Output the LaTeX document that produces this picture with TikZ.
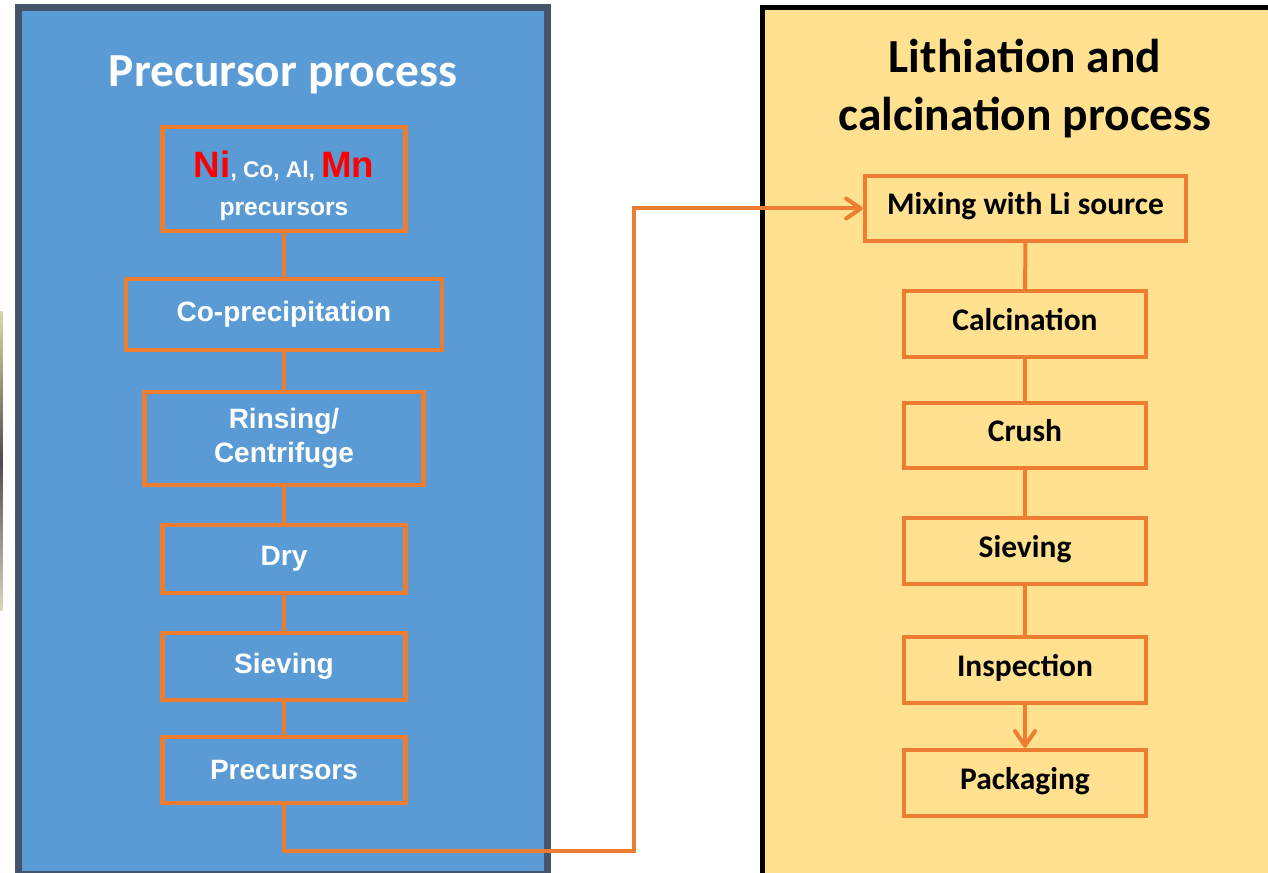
\documentclass[tikz,border=0pt]{standalone}
\usepackage{fontspec}
\setmainfont{Liberation Sans}
\newfontfamily\calibri{Carlito}
\usetikzlibrary{arrows.meta}
\definecolor{panelblue}{HTML}{5B9BD5}
\definecolor{panelslate}{HTML}{44546A}
\definecolor{panelyellow}{HTML}{FFE18F}
\definecolor{flow}{HTML}{ED7D31}
\definecolor{elem}{HTML}{FF0000}
\tikzset{
  stepbox/.style={draw=flow, line width=3.3pt, inner sep=0pt, align=center},
  lbox/.style={stepbox, text=white, font=\fontsize{21}{25.5}\selectfont\bfseries},
  rbox/.style={stepbox, text=black, font=\calibri\fontsize{23.6}{28}\selectfont\bfseries,
    text height=16pt, text depth=6.6pt},
  conn/.style={draw=flow, line width=3pt},
  tip/.style={-{Straight Barb[length=11pt,width=15pt,line cap=round,line join=round]}},
  title/.style={align=center, font=\calibri\fontsize{35.6}{43.5}\selectfont\bfseries, inner sep=0pt},
  srcline/.style={text=white, font=\bfseries, inner sep=0pt, anchor=base}
}
\begin{document}
\begin{tikzpicture}[x=0.75pt,y=-0.75pt]
\useasboundingbox (0,0) rectangle (1268,873);
\clip (0,0) rectangle (1268,873);

% panels
\fill[top color=black!20!olive!25, bottom color=black!55!olive!20, middle color=black!70] (0,312) rectangle (2.5,610);
\draw[panelslate, fill=panelblue, line width=5.25pt] (18.5,7.5) rectangle (547.5,874.5);
\draw[black, fill=panelyellow, line width=3.9pt] (762.5,7.5) rectangle (1290,900);

% titles
\node[title, text=white] (ttlA) at (283,75) {Precursor process};
\node[title, text=black] (ttlB) at (1025,89) {Lithiation and\\calcination process};

% precursor process steps
\node[lbox, minimum width=182.25pt, minimum height=78pt] (src) at (284,179) {};
\node[srcline] (srcA) at (284,178)
  {\textcolor{elem}{\fontsize{27.5}{28}\selectfont Ni}\fontsize{17}{18}\selectfont, Co, Al, \textcolor{elem}{\fontsize{27.5}{28}\selectfont Mn}};
\node[srcline, font=\fontsize{18.5}{20}\selectfont\bfseries] (srcB) at (284,216) {precursors};
\node[lbox, minimum width=237pt, minimum height=53.25pt] (coprec) at (284,314.5) {Co-precipitation};
\node[lbox, minimum width=209.25pt, minimum height=69.75pt] (rinse) at (284,438.5) {Rinsing/\\Centrifuge};
\node[lbox, minimum width=182.25pt, minimum height=51pt] (dry) at (284,559) {Dry};
\node[lbox, minimum width=182.25pt, minimum height=50.25pt] (sieveA) at (284,666.5) {Sieving};
\node[lbox, minimum width=182.25pt, minimum height=49.5pt] (prec) at (284,770) {Precursors};

% lithiation and calcination steps
\node[rbox, minimum width=240.75pt, minimum height=48.75pt] (mix) at (1025.5,208.5) {Mixing with Li source};
\node[rbox, minimum width=181.5pt, minimum height=49.5pt] (calc) at (1025,324) {Calcination};
\node[rbox, minimum width=181.5pt, minimum height=48.75pt] (crush) at (1025,435.5) {Crush};
\node[rbox, minimum width=181.5pt, minimum height=49.5pt] (sieveB) at (1025,551) {Sieving};
\node[rbox, minimum width=181.5pt, minimum height=49.5pt] (insp) at (1025,670) {Inspection};
\node[rbox, minimum width=181.5pt, minimum height=49.5pt] (pack) at (1025,783) {Packaging};

% connectors
\draw[conn] (src) -- (coprec);
\draw[conn] (coprec) -- (rinse);
\draw[conn] (rinse) -- (dry);
\draw[conn] (dry) -- (sieveA);
\draw[conn] (sieveA) -- (prec);
\coordinate (turn) at (634,851);
\draw[conn, tip] (prec.south) |- (turn) |- (mix.west);
\draw[conn] (mix) -- (calc);
\draw[conn] (calc) -- (crush);
\draw[conn] (crush) -- (sieveB);
\draw[conn] (sieveB) -- (insp);
\draw[conn, tip] (insp) -- (pack);
\end{tikzpicture}
\end{document}
